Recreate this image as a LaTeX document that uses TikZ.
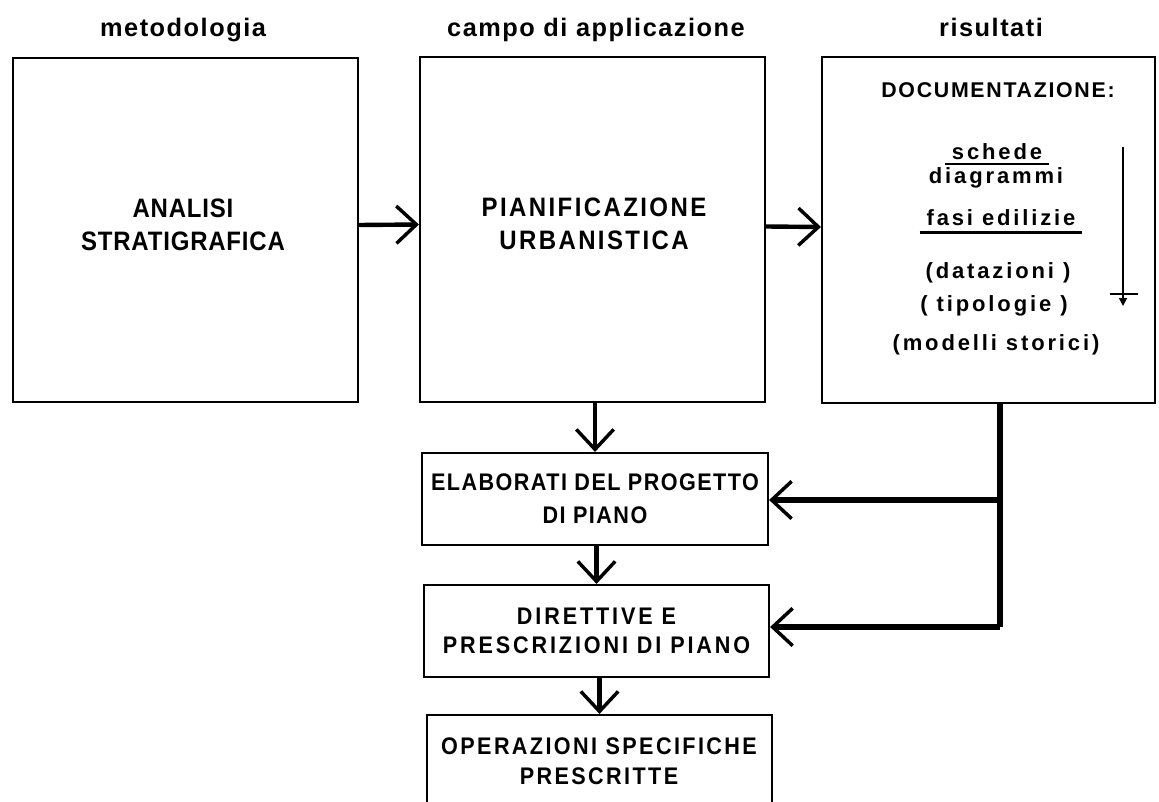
\documentclass[tikz,border=0pt]{standalone}
\usepackage{fontspec}
\setmainfont{Liberation Sans}
\newfontfamily\boxfont{Liberation Sans}[FakeStretch=0.9,LetterSpace=3]
\newfontfamily\headfont{Liberation Sans}[LetterSpace=6]
\newfontfamily\docfont{Liberation Sans}[LetterSpace=8]
\usetikzlibrary{arrows.meta}
\begin{document}
\begin{tikzpicture}[x=0.75pt,y=-0.75pt,
  boxnode/.style={draw=black,line width=1.6pt,inner sep=0pt},
  bigtext/.style={align=center,font=\boxfont\bfseries\fontsize{20}{24.75}\selectfont},
  smalltext/.style={align=center,font=\boxfont\bfseries\fontsize{18}{24.75}\selectfont\addfontfeature{LetterSpace=6}},
  headtext/.style={anchor=base,font=\headfont\bfseries\fontsize{19}{22}\selectfont},
  doctext/.style={font=\docfont\bfseries\fontsize{16.5}{22}\selectfont\addfontfeature{LetterSpace=13},inner xsep=5pt,inner ysep=0pt},
  arr/.style={line width=3.3pt,-{Straight Barb[length=15pt,width=28pt,line width=2.6pt]}},
  feed/.style={line width=3.8pt,line join=miter}
]
\useasboundingbox (0,0) rectangle (1159,802);
\clip (0,0) rectangle (1159,802);
\fill[white] (0,0) rectangle (1159,802);

% headers
\node[headtext] (h1) at (183,37) {metodologia};
\node[headtext] (h2) at (596,37) {campo di applicazione};
\node[headtext] (h3) at (991,37) {risultati};

% boxes
\node[boxnode,minimum width=258.75pt,minimum height=258pt] (b1) at (185.5,230) {};
\node[boxnode,minimum width=258.75pt,minimum height=258.75pt] (b2) at (592.5,229.5) {};
\node[boxnode,minimum width=249.75pt,minimum height=259.5pt] (b3) at (988.5,230) {};
\node[boxnode,minimum width=259.5pt,minimum height=69pt,smalltext] (b4) at (595,499) {ELABORATI DEL PROGETTO\\DI PIANO};
\node[boxnode,minimum width=258.75pt,minimum height=69pt,align=center,font=\boxfont\bfseries\fontsize{18}{21.75}\selectfont\addfontfeature{LetterSpace=12}] (b5) at (596.5,631) {DIRETTIVE E\\PRESCRIZIONI DI PIANO};
\node[boxnode,minimum width=258.75pt,minimum height=90pt] (b6) at (599.5,775) {};

% box texts
\node[bigtext] (t1) at (183,224.5) {ANALISI\\STRATIGRAFICA};
\node[bigtext,font=\boxfont\bfseries\fontsize{20}{24.75}\selectfont\addfontfeature{LetterSpace=9}] (t2) at (594,224) {PIANIFICAZIONE\\URBANISTICA};
\node[align=center,font=\boxfont\bfseries\fontsize{18}{22.5}\selectfont\addfontfeature{LetterSpace=10}] (t6) at (599,761.5) {OPERAZIONI SPECIFICHE\\PRESCRITTE};

% documentation box
\node[font=\docfont\bfseries\fontsize{16}{20}\selectfont] (doc) at (998,90) {DOCUMENTAZIONE:};
\node[doctext,anchor=base] (sch) at (997,160) {schede};
\node[doctext,anchor=base] (dia) at (996,184) {diagrammi};
\node[doctext,anchor=base] (fas) at (1001,226) {fasi edilizie};
\node[doctext] (dat) at (998,273) {(datazioni )};
\node[doctext] (tip) at (994,306) {( tipologie )};
\node[doctext] (mod) at (996,345) {(modelli storici)};
\draw[line width=2.2pt] ([yshift=-3pt]sch.base west) -- ([yshift=-3pt]sch.base east);
\draw[line width=2.2pt] ([yshift=-5pt]fas.base west) -- ([yshift=-5pt]fas.base east);

% vertical arrow inside documentation box
\coordinate (a1) at (1123,147);
\coordinate (a2) at (1123,306);
\coordinate (g1) at (1110,294);
\coordinate (g2) at (1138,294);
\draw[line width=1.2pt,-{Triangle[length=6pt,width=6pt]}] (a1) -- (a2);
\draw[line width=1.4pt] (g1) -- (g2);

% main arrows
\draw[arr] ([yshift=3.75pt]b1.east) -- ([yshift=3.75pt]b2.west);
\draw[arr] ([yshift=2.25pt]b2.east) -- ([yshift=2.25pt]b3.west);
\draw[arr] (b2.south -| b4.north) -- (b4.north);
\draw[arr] (b4.south -| b5.north) -- (b5.north);
\draw[arr] (b5.south -| b6.north) -- (b6.north);

% feedback from results
\coordinate (j1) at (1000,500);
\coordinate (j2) at (1000,627);
\draw[feed] (b3.south -| j1) -- (j2);
\draw[arr,line width=3.8pt] (j1) -- (j1 -| b4.east);
\draw[arr,line width=3.8pt] (j2) -- (j2 -| b5.east);
\end{tikzpicture}
\end{document}
